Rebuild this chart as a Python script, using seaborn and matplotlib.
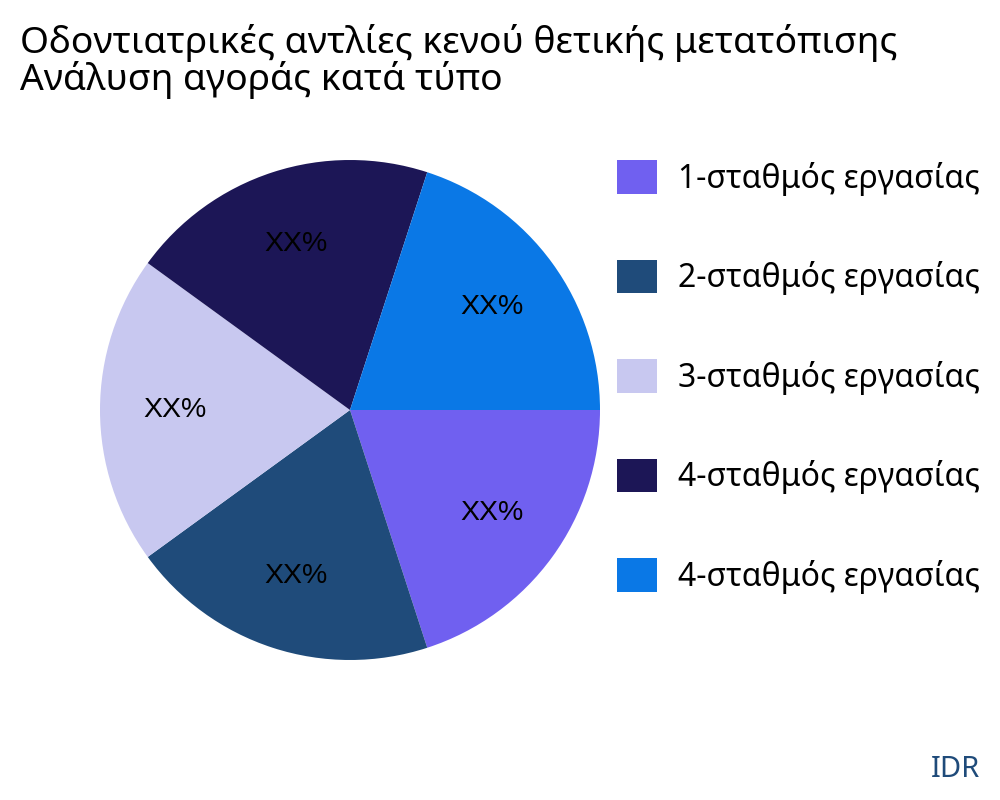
import matplotlib
matplotlib.use("Agg")
import matplotlib.pyplot as plt
import seaborn as sns

sns.set_theme(style="white")
plt.rcParams['font.family'] = ['Noto Sans', 'DejaVu Sans']
plt.rcParams['text.color'] = 'black'

categories = ["1-σταθμός εργασίας", "2-σταθμός εργασίας", "3-σταθμός εργασίας",
              "4-σταθμός εργασίας", "4-σταθμός εργασίας"]
values = [20, 20, 20, 20, 20]
labels = ["XX%"] * 5
colors = ["#7060F0", "#1F4B7A", "#C8C8F0", "#1C1656", "#0A78E6"]

fig = plt.figure(figsize=(10, 8), dpi=100)
ax = fig.add_axes([0.1, 0.175, 0.5, 0.625])
wedges, texts = ax.pie(values, colors=colors, startangle=0, counterclock=False,
                       labels=labels, labeldistance=0.7,
                       wedgeprops=dict(linewidth=0),
                       textprops=dict(fontsize=20.5, family='Liberation Sans', color='black'))
for t in texts:
    t.set_ha('center'); t.set_va('center')
ax.set_xlim(-1, 1); ax.set_ylim(-1, 1)
ax.set_aspect('equal')

fig.text(0.02, 0.97, "Οδοντιατρικές αντλίες κενού θετικής μετατόπισης\nΑνάλυση αγοράς κατά τύπο",
         fontsize=26.8, va='top', ha='left', linespacing=0.98, color='black')
fig.legend(wedges, categories, loc='upper left', bbox_to_anchor=(0.617, 0.80),
           frameon=False, fontsize=23, handlelength=1.25, handleheight=1.25,
           labelspacing=2.0, handletextpad=0.65, borderaxespad=0, borderpad=0,
           labelcolor='black')
fig.text(0.98, 0.02, "IDR", fontsize=21, color="#1F4B7A", ha='right', va='bottom')
fig.savefig("out.png", dpi=100)
